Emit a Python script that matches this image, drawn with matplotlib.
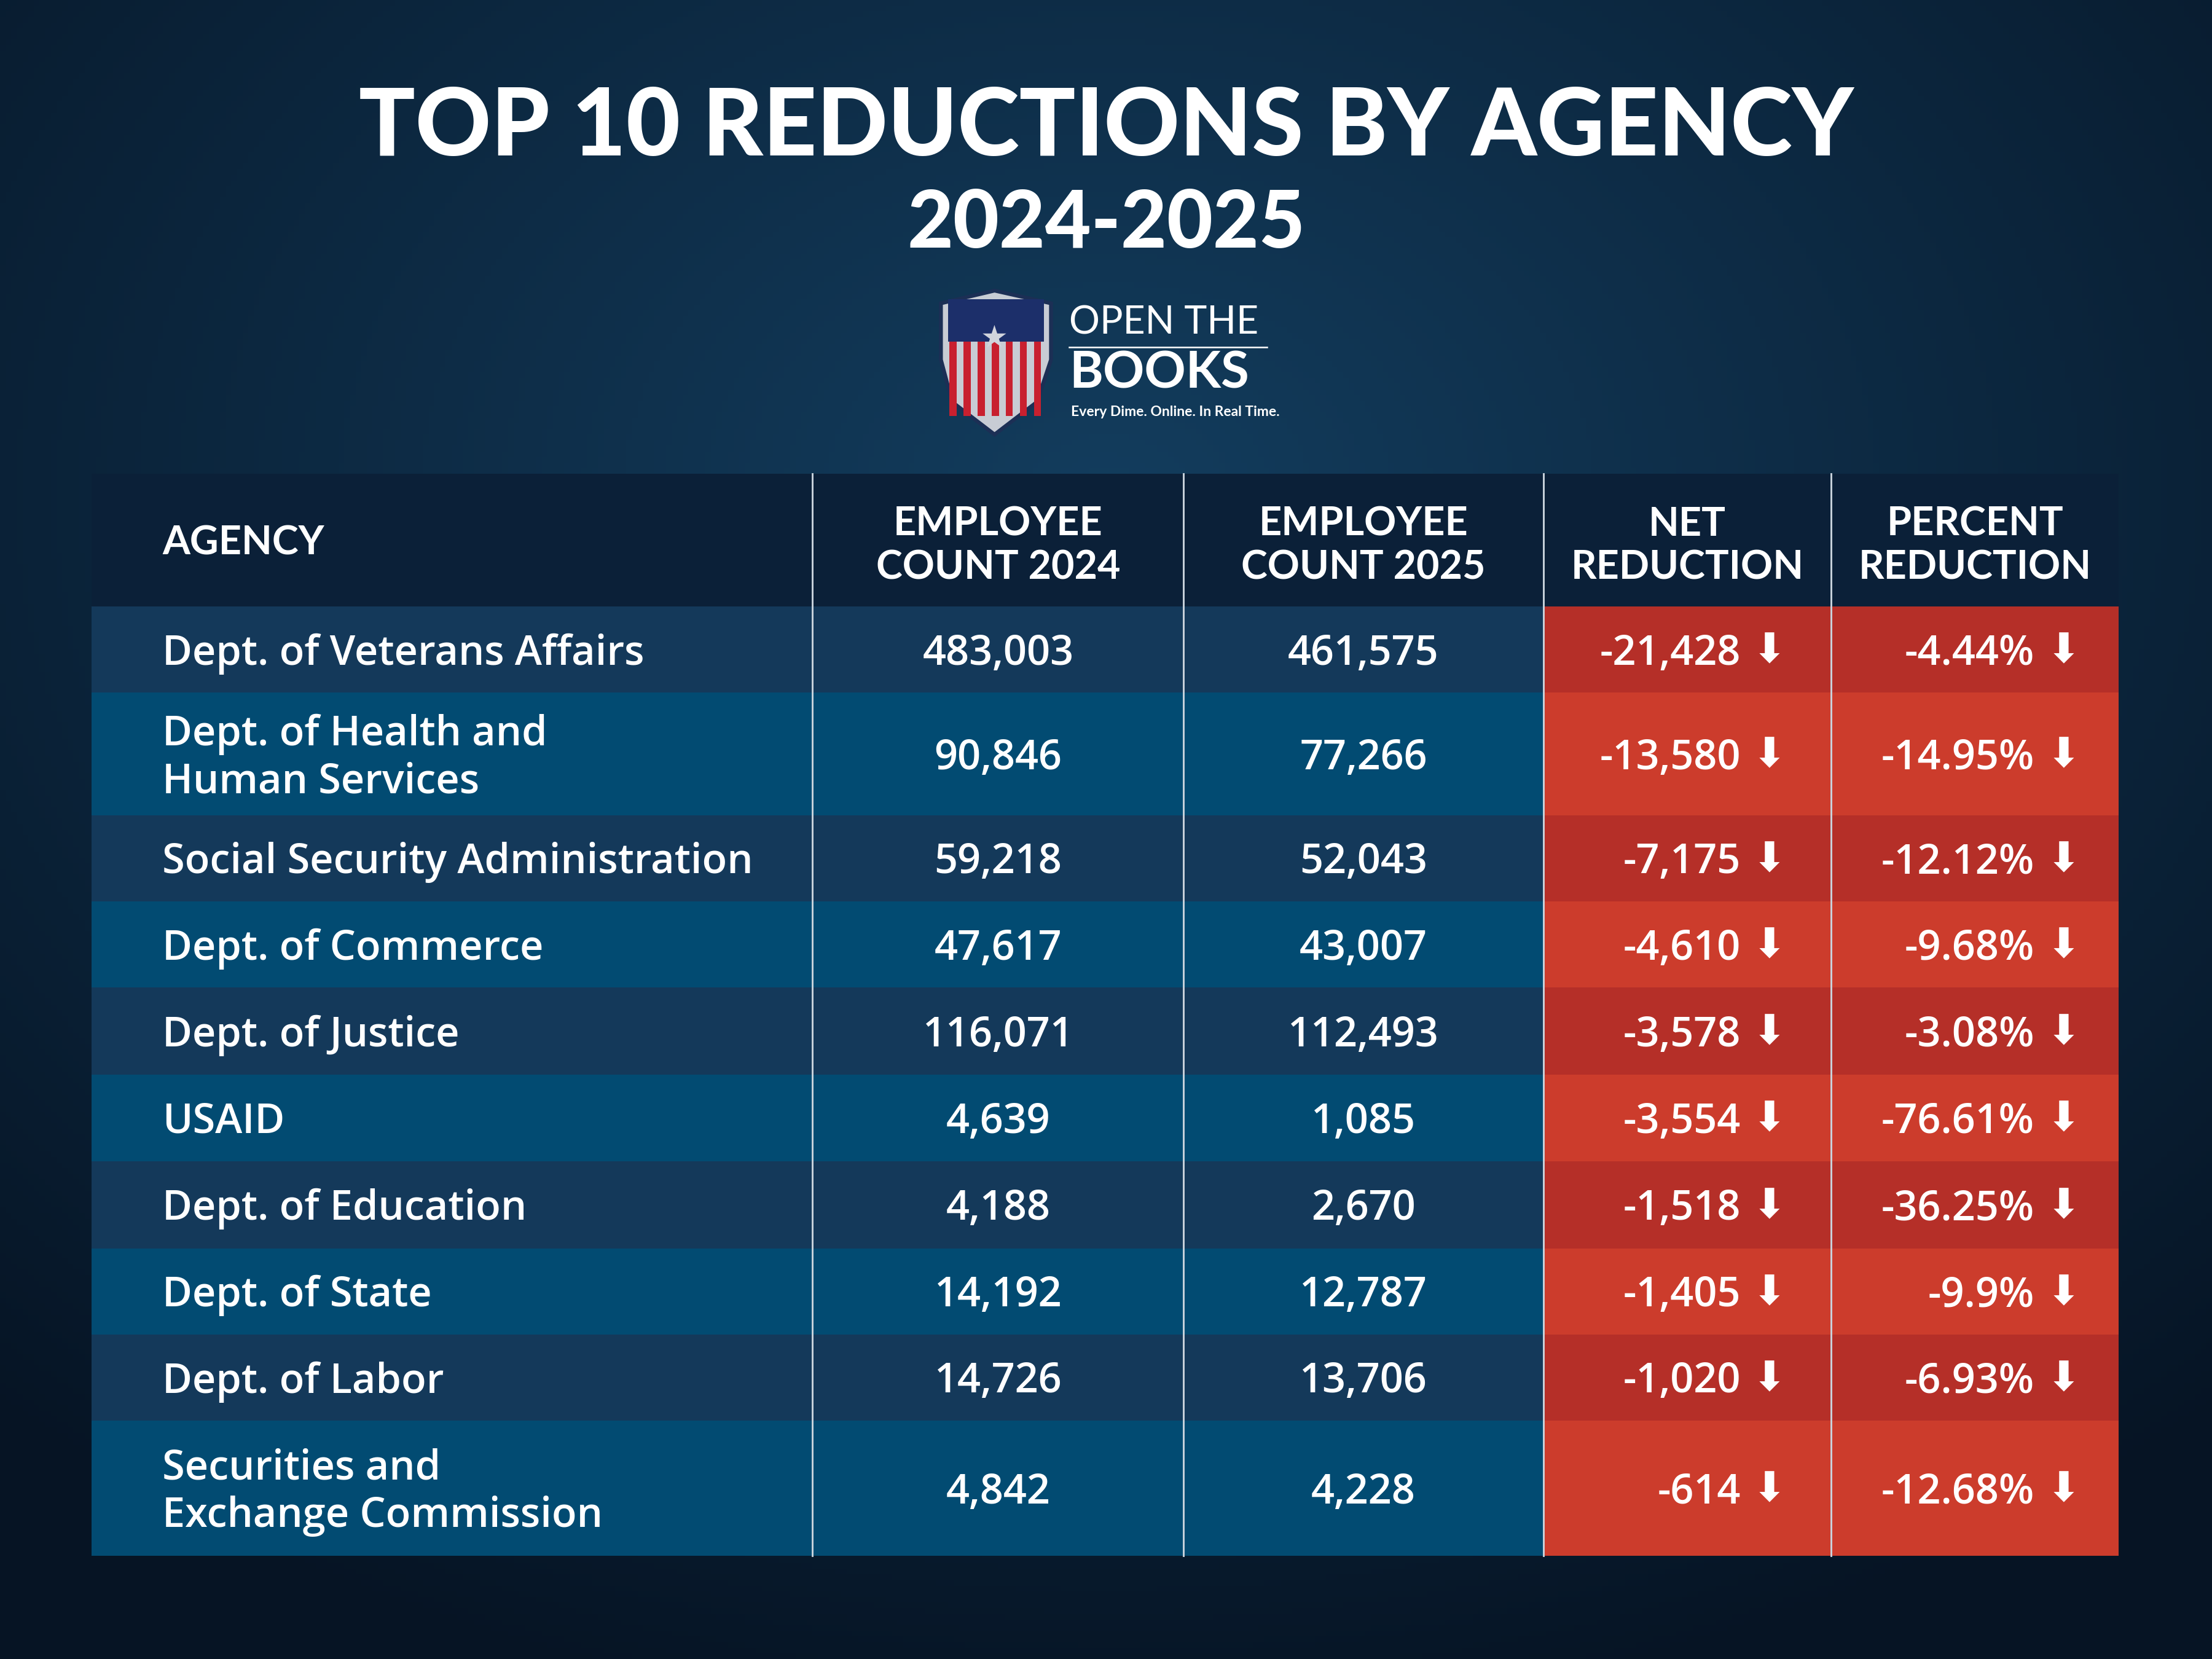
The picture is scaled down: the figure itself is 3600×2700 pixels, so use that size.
import numpy as np
import matplotlib.pyplot as plt
from matplotlib.patches import Rectangle, Polygon

agencies = ["Dept. of Veterans Affairs", "Dept. of Health and\nHuman Services",
            "Social Security Administration", "Dept. of Commerce", "Dept. of Justice",
            "USAID", "Dept. of Education", "Dept. of State", "Dept. of Labor",
            "Securities and\nExchange Commission"]
count_2024 = [483003, 90846, 59218, 47617, 116071, 4639, 4188, 14192, 14726, 4842]
count_2025 = [461575, 77266, 52043, 43007, 112493, 1085, 2670, 12787, 13706, 4228]
net_reduction = [-21428, -13580, -7175, -4610, -3578, -3554, -1518, -1405, -1020, -614]
pct_reduction = ["-4.44%", "-14.95%", "-12.12%", "-9.68%", "-3.08%", "-76.61%",
                 "-36.25%", "-9.9%", "-6.93%", "-12.68%"]
headers = ["AGENCY", "EMPLOYEE\nCOUNT 2024", "EMPLOYEE\nCOUNT 2025", "NET\nREDUCTION", "PERCENT\nREDUCTION"]

W, H = 1568, 1176
fig = plt.figure(figsize=(12, 9), dpi=300)
ax = fig.add_axes([0, 0, 1, 1])
ax.set_xlim(0, W)
ax.set_ylim(H, 0)
ax.axis("off")

# background radial gradient
yy, xx = np.mgrid[0:H:4, 0:W:4]
r = np.sqrt(((xx - W / 2) / W) ** 2 + ((yy - 350) / H) ** 2)
c0 = np.array([0x13, 0x3d, 0x5e]) / 255
c1 = np.array([0x06, 0x14, 0x24]) / 255
t = np.clip(r / 0.75, 0, 1)[..., None]
ax.imshow(c0 * (1 - t) + c1 * t, extent=(0, W, H, 0), zorder=0, aspect="auto")

FF = ["Lato", "DejaVu Sans"]
BODY = ["Open Sans", "DejaVu Sans"]
ax.text(W / 2, 91, "TOP 10 REDUCTIONS BY AGENCY", color="white", fontsize=36.5,
        fontweight="black", family=FF, ha="center", va="center")
ax.text(W / 2, 159, "2024-2025", color="white", fontsize=31, fontweight="black",
        family=FF, ha="center", va="center")

# logo
shield = [(667, 215), (705, 206), (745, 215), (745, 255), (735, 285), (705, 308), (675, 285), (667, 255)]
ax.add_patch(Polygon(shield, closed=True, fc="#c8ccd4", ec="#1c2f55", lw=1.5, zorder=2))
for i in range(7):
    x0 = 673 + i * 10
    ax.add_patch(Rectangle((x0, 240), 5, 55, fc="#c8202f", ec="none", zorder=3))
ax.add_patch(Rectangle((672, 212), 68, 30, fc="#1c2f6a", ec="none", zorder=3))
ax.text(705, 240, "★", color="#d0d4dc", fontsize=12, ha="center", va="center",
        family="DejaVu Sans", zorder=4)
ax.text(758, 229, "OPEN THE", color="white", fontsize=15, family=FF, ha="left", va="center")
ax.plot([758, 898], [246, 246], color="white", lw=0.6)
ax.text(758, 265, "BOOKS", color="white", fontsize=20, fontweight="bold", family=FF,
        ha="left", va="center")
ax.text(759, 292, "Every Dime. Online. In Real Time.", color="white", fontsize=5.5,
        fontweight="bold", family=FF, ha="left", va="center")

# table
cols = [65, 576, 839, 1094, 1298, 1502]
rows = [336, 430, 491, 578, 639, 700, 762, 823, 885, 946, 1007, 1103]
ax.add_patch(Rectangle((cols[0], rows[0]), cols[-1] - cols[0], rows[1] - rows[0],
                       fc="#0b2038", ec="none", zorder=2))
for j, h in enumerate(headers):
    if j == 0:
        ax.text(115, (rows[0] + rows[1]) / 2 + 2, h, color="white", fontsize=15.5, fontweight="bold",
                family=FF, ha="left", va="center", zorder=5)
    else:
        ax.text((cols[j] + cols[j + 1]) / 2, (rows[0] + rows[1]) / 2 + 4, h, color="white",
                fontsize=15.5, fontweight="bold", family=FF, ha="center", va="center",
                linespacing=1.25, zorder=5)

FS = 16
for i, name in enumerate(agencies):
    y0, y1 = rows[i + 1], rows[i + 2]
    yc = (y0 + y1) / 2 + 3
    dark = i % 2 == 0
    blue = "#14395a" if dark else "#024b72"
    red = "#b52f28" if dark else "#cc3c2c"
    ax.add_patch(Rectangle((cols[0], y0), cols[3] - cols[0], y1 - y0, fc=blue, ec="none", zorder=2))
    ax.add_patch(Rectangle((cols[3], y0), cols[5] - cols[3], y1 - y0, fc=red, ec="none", zorder=2))
    ax.text(115, yc, name, color="white", fontsize=FS, fontweight="semibold", family=BODY,
            ha="left", va="center", linespacing=1.2, zorder=5)
    ax.text((cols[1] + cols[2]) / 2, yc, f"{count_2024[i]:,}", color="white", fontsize=FS,
            fontweight="semibold", family=BODY, ha="center", va="center", zorder=5)
    ax.text((cols[2] + cols[3]) / 2, yc, f"{count_2025[i]:,}", color="white", fontsize=FS,
            fontweight="semibold", family=BODY, ha="center", va="center", zorder=5)
    ax.text(1234, yc, f"{net_reduction[i]:,}", color="white", fontsize=FS,
            fontweight="semibold", family=BODY, ha="right", va="center", zorder=5)
    ax.text(1442, yc, pct_reduction[i], color="white", fontsize=FS,
            fontweight="semibold", family=BODY, ha="right", va="center", zorder=5)
    for xa in (1254, 1463):
        ax.text(xa, yc - 2, "⬇", color="white", fontsize=16, family="DejaVu Sans",
                ha="center", va="center", zorder=5)

for x in cols[1:-1]:
    ax.plot([x, x], [rows[0], rows[-1]], color="#c9d3dc", lw=0.7, zorder=4)

fig.savefig("out.png", dpi=300)
